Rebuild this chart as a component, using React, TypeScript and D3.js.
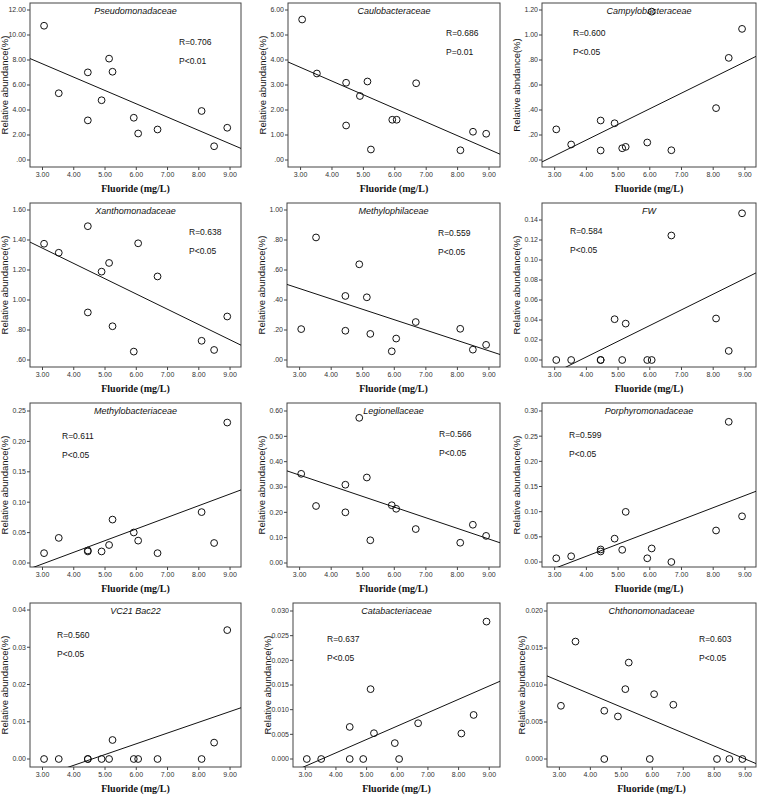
import React from "react";
import * as d3 from "d3";

// ---------- DATA ----------
const fluoride = [3.05, 3.52, 4.45, 4.45, 4.89, 5.13, 5.24, 5.92, 6.06, 6.68, 8.09, 8.49, 8.91];

const families = [
  "Pseudomonadaceae", "Caulobacteraceae", "Campylobacteraceae",
  "Xanthomonadaceae", "Methylophilaceae", "FW",
  "Methylobacteriaceae", "Legionellaceae", "Porphyromonadaceae",
  "VC21  Bac22", "Catabacteriaceae", "Chthonomonadaceae",
];

const pseudomonadaceae = [10.74, 5.34, 7.01, 3.17, 4.78, 8.11, 7.06, 3.38, 2.12, 2.44, 3.92, 1.10, 2.58];
const caulobacteraceae = [5.62, 3.46, 3.09, 1.38, 2.56, 3.14, 0.42, 1.61, 1.61, 3.07, 0.39, 1.13, 1.05];
const campylobacteraceae = [0.245, 0.124, 0.316, 0.076, 0.294, 0.094, 0.105, 0.14, 1.187, 0.078, 0.415, 0.817, 1.049];
const xanthomonadaceae = [1.375, 1.315, 1.492, 0.917, 1.189, 1.247, 0.825, 0.656, 1.378, 1.157, 0.728, 0.667, 0.89];
const methylophilaceae = [0.206, 0.817, 0.427, 0.195, 0.638, 0.418, 0.174, 0.058, 0.143, 0.253, 0.208, 0.069, 0.101];
const fw = [0, 0, 0, 0, 0.0408, 0, 0.0364, 0, 0, 0.1245, 0.0415, 0.0091, 0.1467];
const methylobacteriaceae = [0.0162, 0.0413, 0.0206, 0.019, 0.019, 0.0296, 0.0714, 0.0502, 0.0368, 0.0162, 0.0837, 0.0329, 0.231];
const legionellaceae = [0.352, 0.225, 0.309, 0.2, 0.573, 0.3375, 0.0897, 0.228, 0.214, 0.134, 0.08, 0.151, 0.107];
const porphyromonadaceae = [0.0074, 0.0114, 0.0249, 0.0209, 0.0464, 0.0242, 0.0996, 0.0074, 0.0269, 0.0, 0.0626, 0.2785, 0.0908];
const vc21Bac22 = [0, 0, 0, 0, 0, 0, 0.0051, 0, 0, 0, 0, 0.0044, 0.0346];
const catabacteriaceae = [0, 0, 0.0065, 0, 0, 0.01416, 0.00523, 0.00322, 0, 0.00725, 0.00517, 0.00893, 0.02785];
const chthonomonadaceae = [0.00719, 0.01587, 0.00652, 0, 0.00575, 0.00944, 0.01303, 0, 0.00876, 0.00733, 0, 0, 0];

const seriesValues = [
  pseudomonadaceae, caulobacteraceae, campylobacteraceae,
  xanthomonadaceae, methylophilaceae, fw,
  methylobacteriaceae, legionellaceae, porphyromonadaceae,
  vc21Bac22, catabacteriaceae, chthonomonadaceae,
];

const rLabels = ["R=0.706", "R=0.686", "R=0.600", "R=0.638", "R=0.559", "R=0.584", "R=0.611", "R=0.566", "R=0.599", "R=0.560", "R=0.637", "R=0.603"];
const pLabels = ["P<0.01", "P=0.01", "P<0.05", "P<0.05", "P<0.05", "P<0.05", "P<0.05", "P<0.05", "P<0.05", "P<0.05", "P<0.05", "P<0.05"];
const yAxisLabels = [
  "Relative abundance(%)", "Relative abundance(%)", "Relative abndance(%)",
  "Relative abundance(%)", "Relative abundance(%)", "Relative abundance(%)",
  "Relative abundance(%)", "Relative abundance(%)", "Relative abundance(%)",
  "Relative abundance(%)", "Relative abundance(%)", "Relative abundance(%)",
];

const yTickMin = [0, 0, 0, 0.6, 0, 0, 0, 0, 0, 0, 0, 0];
const yTickMax = [12, 6, 1.2, 1.6, 1.0, 0.14, 0.25, 0.6, 0.3, 0.04, 0.03, 0.02];
const yTickStep = [2, 1, 0.2, 0.2, 0.2, 0.02, 0.05, 0.1, 0.05, 0.01, 0.005, 0.005];
const yTickDecimals = [2, 2, 2, 2, 2, 2, 2, 2, 2, 2, 3, 3];
const yTickLeadingZero = [false, false, false, false, false, true, true, true, true, true, true, true];
const xTicks = [3, 4, 5, 6, 7, 8, 9];
const xTitle = "Fluoride (mg/L)";

// ---------- LAYOUT ----------
const W = 758;
const H = 795;
const xDomain = [2.6, 9.35];
const boxLeft = [30, 288, 542, 30, 287, 542, 30, 287, 542, 30, 293, 547];
const colRight = [241, 500, 756];
const rowTop = [3, 203, 403, 603];
const boxH = 164;
const padTop = [7, 7, 7, 7, 7, 17, 8, 8, 8, 7, 8, 8];
const padBottom = [7, 7, 7, 7, 7, 7, 4, 4, 5, 8, 8, 8];
const annotDx = [149, 158, 31, 159, 151, 28, 32, 152, 27, 27, 34, 152];
const annotDy = [39, 30, 30, 29, 30, 28, 33, 31, 32, 32, 36, 36];

const sans = "'Liberation Sans', Arial, sans-serif";
const serif = "'Liberation Serif', 'Times New Roman', serif";

function fmtTick(v: number, dec: number, lead: boolean) {
  let s = v.toFixed(dec);
  if (!lead && s.startsWith("0.")) s = s.slice(1);
  return s;
}

function Panel({ i }: { i: number }) {
  const col = i % 3;
  const row = Math.floor(i / 3);
  const x0 = boxLeft[i];
  const x1 = colRight[col];
  const y0 = rowTop[row];
  const y1 = y0 + boxH;
  const ys = seriesValues[i];

  const x = d3.scaleLinear().domain(xDomain).range([x0, x1]);
  const y = d3.scaleLinear().domain([yTickMin[i], yTickMax[i]]).range([y1 - padBottom[i], y0 + padTop[i]]);

  const yTicks = d3.range(yTickMin[i], yTickMax[i] + yTickStep[i] / 2, yTickStep[i]);

  // least squares fit
  const mx = d3.mean(fluoride) as number;
  const my = d3.mean(ys) as number;
  let sxy = 0, sxx = 0;
  fluoride.forEach((xv, k) => { sxy += (xv - mx) * (ys[k] - my); sxx += (xv - mx) ** 2; });
  const b = sxy / sxx;
  const a = my - b * mx;
  const linePath = d3.line<number>().x((d) => x(d)).y((d) => y(a + b * d))(xDomain as number[]) as string;

  const clipId = `clip-${i}`;
  const cx = (x0 + x1) / 2;
  const cy = (y0 + y1) / 2;

  return (
    <g>
      <defs>
        <clipPath id={clipId}>
          <rect x={x0} y={y0} width={x1 - x0} height={y1 - y0} />
        </clipPath>
      </defs>
      <rect x={x0} y={y0} width={x1 - x0} height={y1 - y0} fill="#fff" stroke="#444" strokeWidth={1} />
      {yTicks.map((t, k) => (
        <g key={"y" + k}>
          <line x1={x0 - 3} x2={x0} y1={y(t)} y2={y(t)} stroke="#444" />
          <text x={x0 - 4} y={y(t)} dy="0.35em" textAnchor="end" fontSize={7} fill="#333" fontFamily={sans}>
            {fmtTick(t, yTickDecimals[i], yTickLeadingZero[i])}
          </text>
        </g>
      ))}
      {xTicks.map((t, k) => (
        <g key={"x" + k}>
          <line x1={x(t)} x2={x(t)} y1={y1} y2={y1 + 3} stroke="#444" />
          <text x={x(t)} y={y1 + 8} dy="0.35em" textAnchor="middle" fontSize={7} fill="#333" fontFamily={sans}>
            {t.toFixed(2)}
          </text>
        </g>
      ))}
      <path d={linePath} stroke="#111" strokeWidth={1} fill="none" clipPath={`url(#${clipId})`} />
      {fluoride.map((xv, k) => (
        <circle key={k} cx={x(xv)} cy={y(ys[k])} r={3.4} fill="none" stroke="#111" strokeWidth={1} />
      ))}
      <text x={cx} y={y0 + 8} dy="0.35em" textAnchor="middle" fontSize={9} fontStyle="italic" fontFamily={sans} fill="#111">
        {families[i]}
      </text>
      <text x={x0 + annotDx[i]} y={y0 + annotDy[i]} dy="0.35em" fontSize={8.5} fontFamily={sans} fill="#111">
        {rLabels[i]}
      </text>
      <text x={x0 + annotDx[i]} y={y0 + annotDy[i] + 19} dy="0.35em" fontSize={8.5} fontFamily={sans} fill="#111">
        {pLabels[i]}
      </text>
      <text
        transform={`translate(${x0 - 25},${cy}) rotate(-90)`}
        dy="0.35em"
        textAnchor="middle"
        fontSize={9.5}
        fontFamily={sans}
        fill="#111"
      >
        {yAxisLabels[i]}
      </text>
      <text x={cx} y={y1 + 21} dy="0.35em" textAnchor="middle" fontSize={10} fontWeight="bold" fontFamily={serif} fill="#111">
        {xTitle}
      </text>
    </g>
  );
}

export default function App() {
  return (
    <svg width={W} height={H} style={{ position: "absolute", left: 0, top: 0, background: "#fff" }}>
      <rect x={0} y={0} width={W} height={H} fill="#fff" />
      {families.map((_, i) => (
        <Panel key={i} i={i} />
      ))}
    </svg>
  );
}
